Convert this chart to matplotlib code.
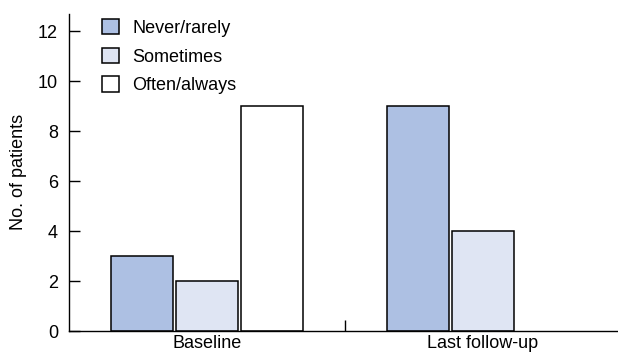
import numpy as np
import matplotlib
matplotlib.use('Agg')
import matplotlib.pyplot as plt

plt.rcParams['font.family'] = ['Liberation Sans', 'DejaVu Sans']

groups = ['Baseline', 'Last follow-up']
categories = ['Never/rarely', 'Sometimes', 'Often/always']
counts = {
    'Never/rarely': [3, 9],
    'Sometimes': [2, 4],
    'Often/always': [9, 0],
}
colors = ['#adc0e3', '#dfe5f3', '#ffffff']

fig = plt.figure(figsize=(6.18, 3.57), dpi=100)
ax = fig.add_axes([0.1117, 0.0728, 0.888, 0.889])

x = np.arange(len(groups))
width = 0.225
step = 0.2355
for i, (cat, col) in enumerate(zip(categories, colors)):
    vals = np.array(counts[cat], dtype=float)
    # empty categories get no outline along the axis
    lw = np.where(vals > 0, 1.1, 0)
    ax.bar(x + (i - 1) * step, vals, width, color=col, edgecolor='black',
           linewidth=lw, label=cat)

ax.set_xlim(-0.5, 1.49)
ax.set_ylim(0, 12.7)
ax.set_yticks([0, 2, 4, 6, 8, 10, 12])
ax.set_xticks(x)
ax.set_xticklabels(groups, fontsize=13)
ax.set_xticks([0.5], minor=True)
ax.tick_params(axis='x', which='major', length=0, pad=3)
ax.tick_params(axis='x', which='minor', direction='in', length=8, width=1)
ax.tick_params(axis='y', direction='in', length=8, width=1, labelsize=13, pad=8)
ax.set_ylabel('No. of patients', fontsize=13, labelpad=8)

for side in ['top', 'right']:
    ax.spines[side].set_visible(False)
for side in ['left', 'bottom']:
    ax.spines[side].set_linewidth(1)

leg = ax.legend(loc='upper left', bbox_to_anchor=(0.03, 1.035), frameon=False,
                fontsize=13, handlelength=0.95, handleheight=0.95,
                labelspacing=0.6, handletextpad=0.75)
for h in leg.legend_handles:
    h.set_linewidth(1.1)

fig.savefig('out.png', dpi=100)
